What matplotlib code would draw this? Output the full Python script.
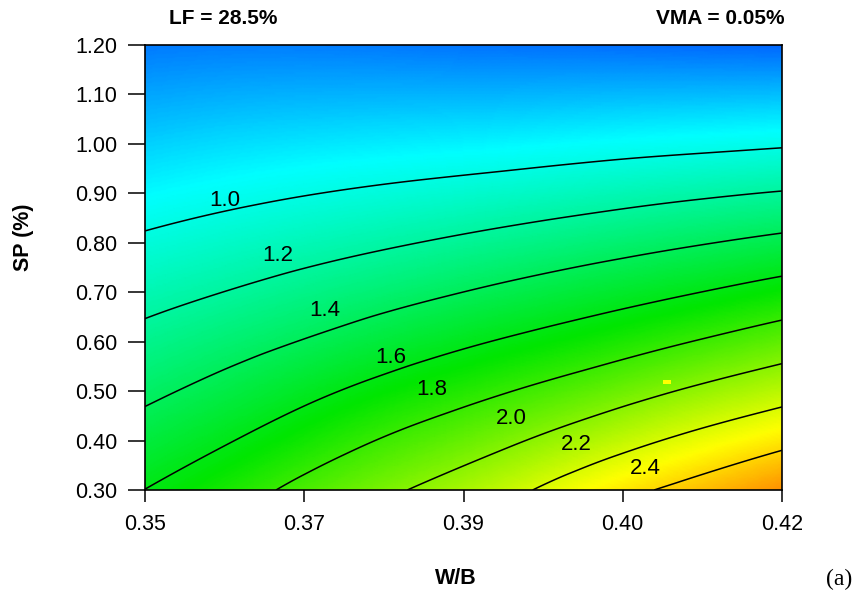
import numpy as np
import matplotlib
matplotlib.use("Agg")
import matplotlib.pyplot as plt
import matplotlib.tri as mtri
from matplotlib.colors import LinearSegmentedColormap, Normalize

# ---------------- data ----------------
wb = np.array([0.35, 0.36, 0.37, 0.38, 0.39, 0.40, 0.41, 0.42])          # W/B
sp = np.array([0.30, 0.40, 0.50, 0.60, 0.70, 0.80, 0.90, 1.00, 1.10, 1.20])  # SP (%)

# response value at each (sp row, wb column)
z_030 = [1.602, 1.735, 1.882, 2.015, 2.157, 2.320, 2.450, 2.583]
z_040 = [1.482, 1.602, 1.733, 1.856, 1.976, 2.112, 2.240, 2.355]
z_050 = [1.364, 1.470, 1.585, 1.694, 1.796, 1.904, 2.020, 2.127]
z_060 = [1.252, 1.340, 1.432, 1.529, 1.618, 1.705, 1.800, 1.899]
z_070 = [1.140, 1.211, 1.286, 1.362, 1.440, 1.516, 1.592, 1.673]
z_080 = [1.027, 1.086, 1.143, 1.200, 1.260, 1.322, 1.384, 1.446]
z_090 = [0.914, 0.961, 1.003, 1.042, 1.082, 1.126, 1.170, 1.211]
z_100 = [0.801, 0.837, 0.863, 0.884, 0.905, 0.933, 0.957, 0.982]
z_110 = [0.688, 0.712, 0.723, 0.727, 0.730, 0.741, 0.747, 0.754]
z_120 = [0.575, 0.585, 0.583, 0.569, 0.555, 0.548, 0.535, 0.526]

levels = [1.0, 1.2, 1.4, 1.6, 1.8, 2.0, 2.2, 2.4]
level_labels = ["1.0", "1.2", "1.4", "1.6", "1.8", "2.0", "2.2", "2.4"]

design_wb = [0.4074]
design_sp = [0.519]

y_ticks = [0.30, 0.40, 0.50, 0.60, 0.70, 0.80, 0.90, 1.00, 1.10, 1.20]
y_tick_labels = ["0.30", "0.40", "0.50", "0.60", "0.70", "0.80", "0.90", "1.00", "1.10", "1.20"]
x_tick_labels = ["0.35", "0.37", "0.39", "0.40", "0.42"]

left_note = "LF = 28.5%"
right_note = "VMA = 0.05%"
panel_tag = "(a)"

# ---------------- layout / style ----------------
label_wb = [0.3588, 0.3646, 0.3697, 0.3770, 0.3815, 0.3903, 0.3974, 0.4050]
label_sp = [0.886, 0.775, 0.664, 0.567, 0.504, 0.444, 0.392, 0.344]

plt.rcParams["font.family"] = ["Liberation Sans", "DejaVu Sans"]

Z = np.array([z_030, z_040, z_050, z_060, z_070, z_080, z_090, z_100, z_110, z_120])
X, Y = np.meshgrid(wb, sp)

# triangulate in normalised space so the cubic smoothing is isotropic
u = (X.ravel() - wb.min()) / np.ptp(wb)
v = (Y.ravel() - sp.min()) / np.ptp(sp)
tri_n = mtri.Triangulation(u, v)
refiner = mtri.UniformTriRefiner(tri_n)
interp = mtri.CubicTriInterpolator(tri_n, Z.ravel(), kind="min_E")
tri_r, z_r = refiner.refine_field(Z.ravel(), triinterpolator=interp, subdiv=5)
tri_plot = mtri.Triangulation(tri_r.x * np.ptp(wb) + wb.min(),
                              tri_r.y * np.ptp(sp) + sp.min(),
                              tri_r.triangles)

zmin, zmax = 0.25, 2.95
nodes = [(0.25, (0.0, 0.0, 1.0)),
         (0.92, (0.0, 1.0, 1.0)),
         (1.66, (0.0, 0.90, 0.0)),
         (2.30, (1.0, 1.0, 0.0)),
         (2.95, (1.0, 0.0, 0.0))]
cmap = LinearSegmentedColormap.from_list(
    "rs", [((p - zmin) / (zmax - zmin), c) for p, c in nodes])
norm = Normalize(vmin=zmin, vmax=zmax)

fig = plt.figure(figsize=(8.64, 6.01), dpi=100)
ax = fig.add_axes([145 / 864, 1 - 490 / 601, (782 - 145) / 864, (490 - 45) / 601])

ax.tripcolor(tri_plot, z_r, shading="gouraud", cmap=cmap, norm=norm)
ax.tricontour(tri_plot, z_r, levels=levels, colors="black", linewidths=1.1)

for xl, yl, t in zip(label_wb, label_sp, level_labels):
    ax.text(xl, yl, t, fontsize=16, ha="center", va="center", color="black")

marker_rect = [(-1, -0.55), (1, -0.55), (1, 0.55), (-1, 0.55), (-1, -0.55)]
ax.plot(design_wb, design_sp, linestyle="none", marker=marker_rect,
        markersize=5.5, color="#ffff00", markeredgewidth=0)

ax.set_xlim(wb.min(), wb.max())
ax.set_ylim(sp.min(), sp.max())
ax.set_xticks(np.linspace(wb.min(), wb.max(), len(x_tick_labels)))
ax.set_xticklabels(x_tick_labels)
ax.set_yticks(y_ticks)
ax.set_yticklabels(y_tick_labels)
ax.tick_params(axis="y", direction="out", length=12, width=1.1, pad=8, labelsize=15.5)
ax.tick_params(axis="x", direction="out", length=8.5, width=1.1, pad=9, labelsize=15.5)
for s in ax.spines.values():
    s.set_linewidth(1.2)
    s.set_color("black")

fig.text(24 / 864, 1 - 237 / 601, "SP (%)", rotation=90, ha="center", va="center",
         fontsize=15.5, fontweight="bold")
fig.text(456 / 864, 1 - 579 / 601, "W/B", ha="center", va="center",
         fontsize=15.5, fontweight="bold")
fig.text(169 / 864, 1 - 19 / 601, left_note, ha="left", va="center",
         fontsize=15, fontweight="bold")
fig.text(784 / 864, 1 - 19 / 601, right_note, ha="right", va="center",
         fontsize=15, fontweight="bold")
fig.text(839 / 864, 1 - 579 / 601, panel_tag, ha="center", va="center",
         fontsize=17, family=["Liberation Serif", "DejaVu Serif"])

fig.savefig("out.png", dpi=100)
